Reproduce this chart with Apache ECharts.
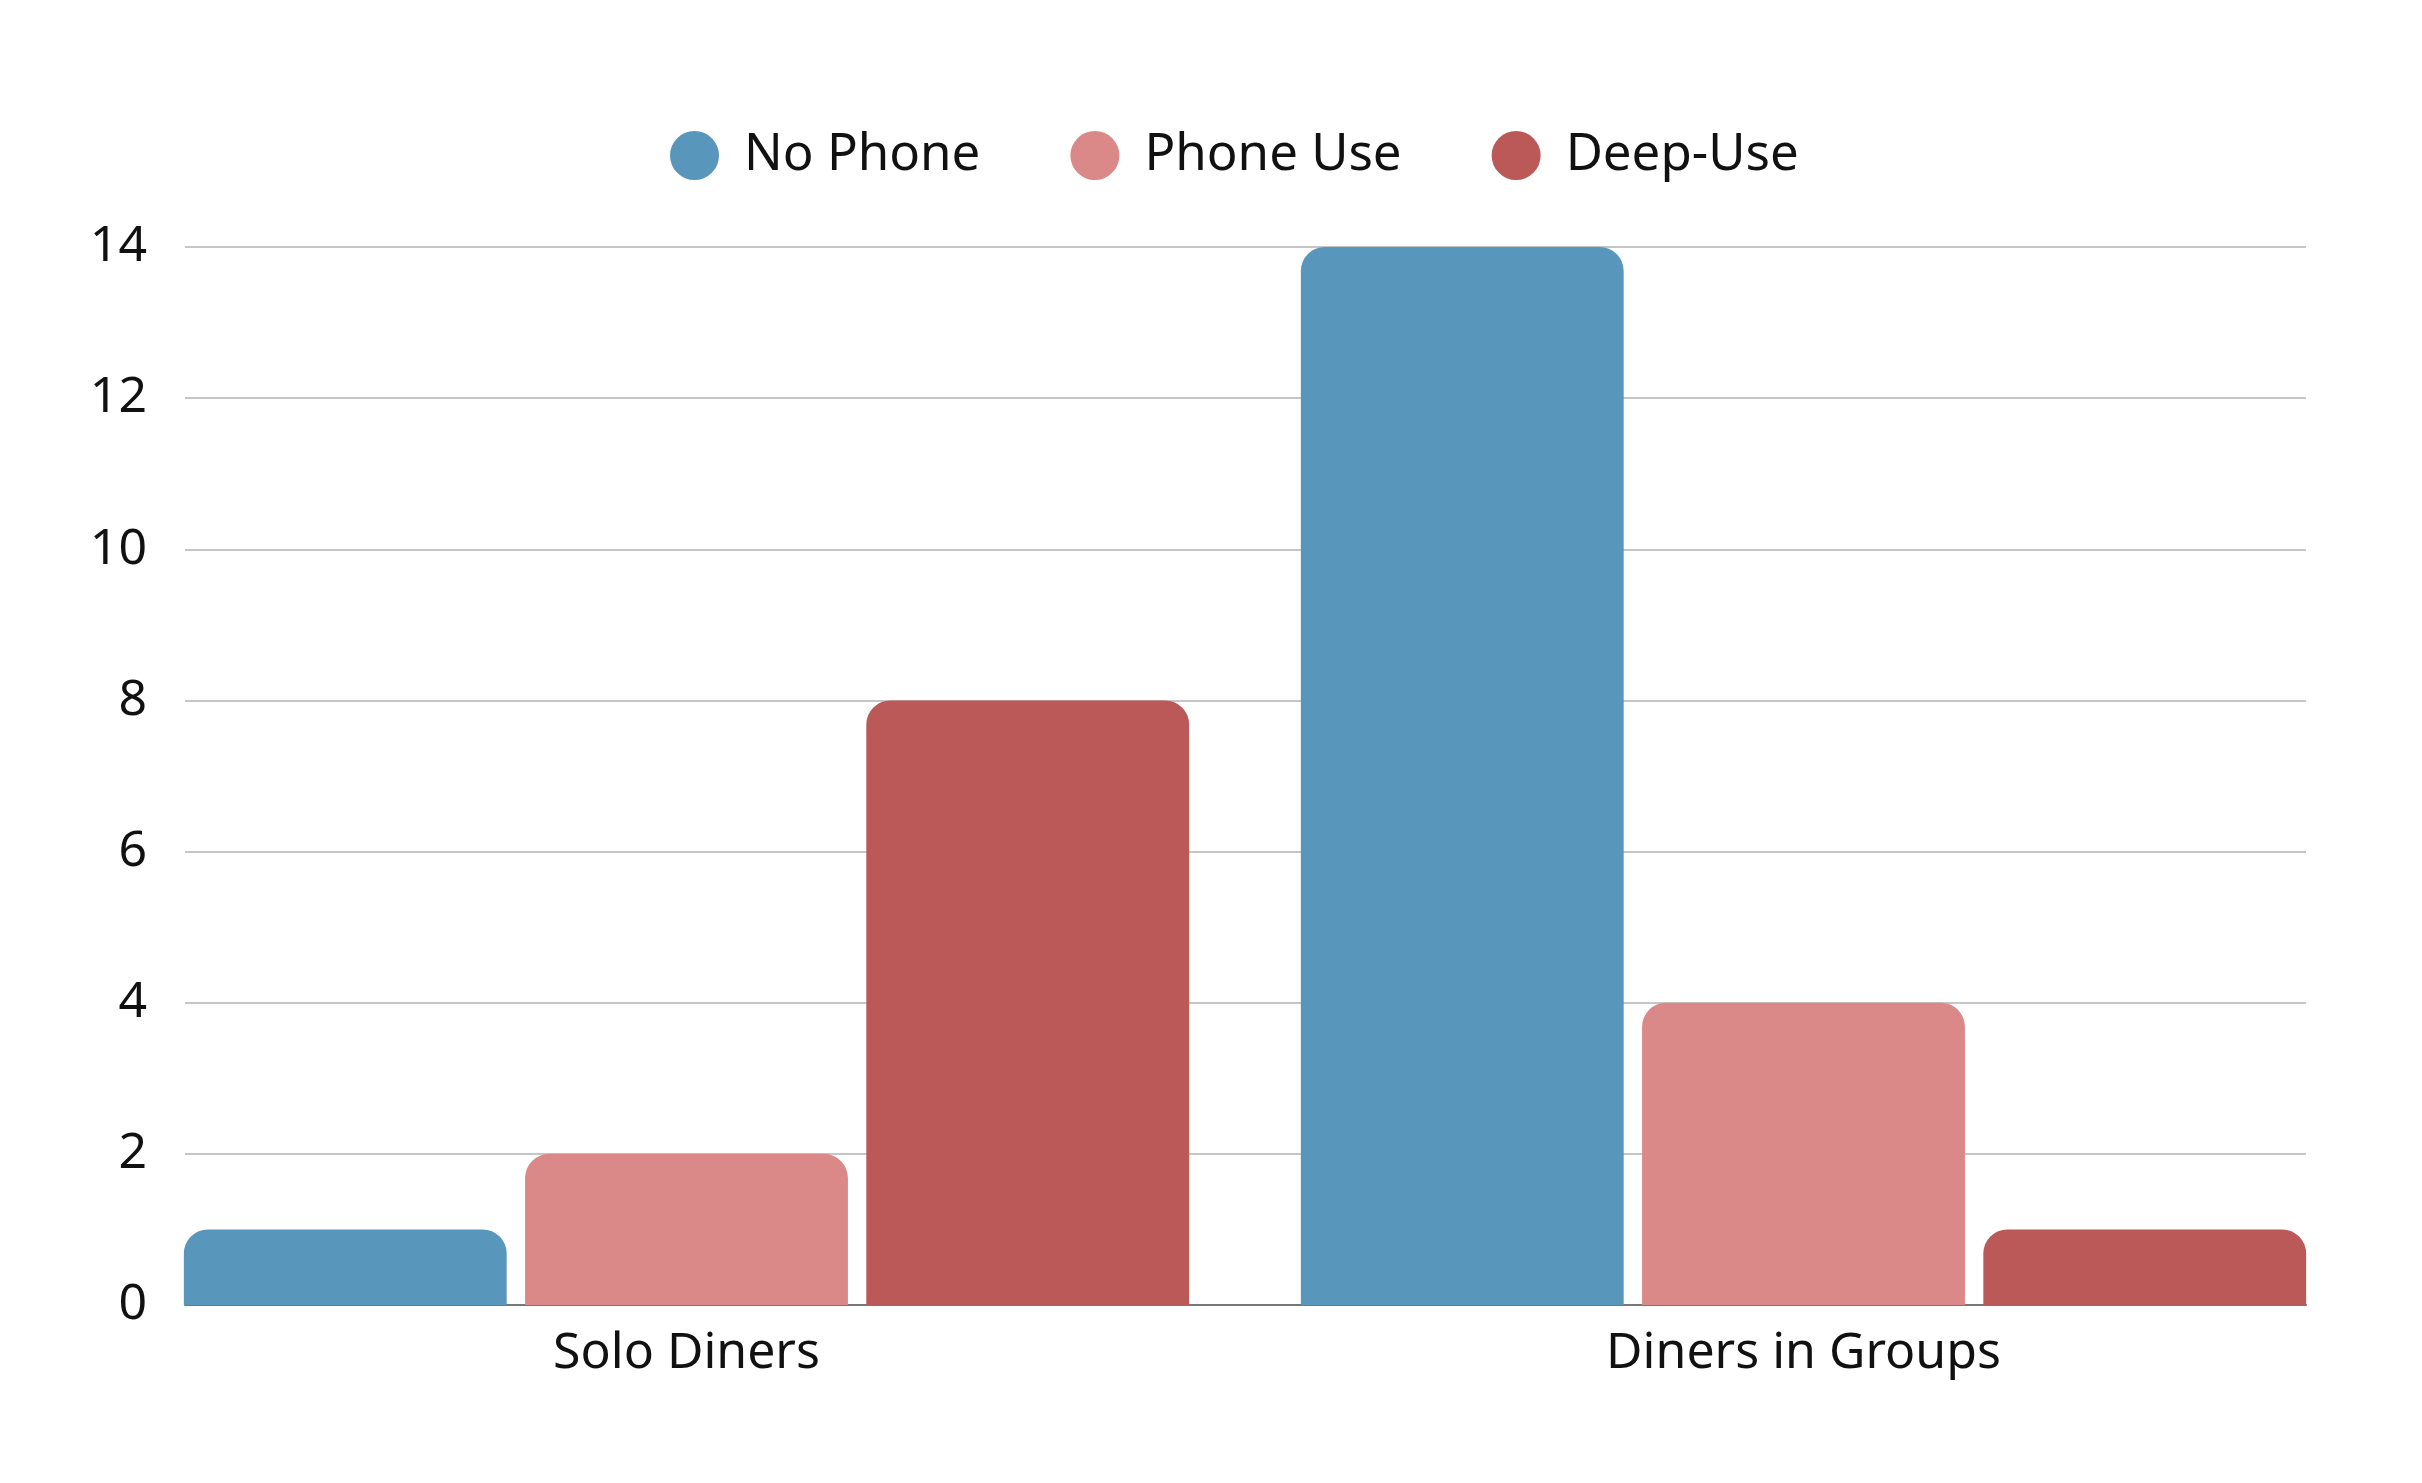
<!DOCTYPE html>
<html>
<head>
<meta charset="utf-8">
<script src="https://cdn.jsdelivr.net/npm/echarts@6/dist/echarts.min.js"></script>
<style>
  html, body { margin: 0; padding: 0; background: #fff; }
  #chart { width: 2422px; height: 1483px; }
</style>
</head>
<body>
<div id="chart"></div>
<script>
const categories = ['Solo Diners', 'Diners in Groups']
const seriesNames = ['No Phone', 'Phone Use', 'Deep-Use']
const noPhone = [1, 14]
const phoneUse = [2, 4]
const deepUse = [8, 1]
const colors = ['#5896bb', '#da8888', '#bb5959']

const chart = echarts.init(document.getElementById('chart'))
const font = 'Noto Sans'

const makeSeries = (name, data, i) => ({
    name: name,
    type: 'bar',
    xAxisIndex: 1,
    yAxisIndex: 1,
    data: data,
    barGap: '5.7%',
    barCategoryGap: '10%',
    itemStyle: { color: colors[i], borderRadius: [24, 24, 0, 0] }
})

chart.setOption({
    animation: false,
    color: colors,
    legend: {
        left: 665,
        top: 125,
        icon: 'circle',
        itemWidth: 49,
        itemHeight: 49,
        itemGap: 90,
        textStyle: { fontFamily: font, fontSize: 51, color: '#111', padding: [0, 0, 0, 20] },
        data: seriesNames
    },
    grid: [
        { left: 185, right: 116, top: 247, bottom: 178 },
        { left: 128, right: 60, top: 247, bottom: 178 }
    ],
    xAxis: [
        {
            gridIndex: 0,
            type: 'value',
            min: 0,
            max: 1,
            axisLabel: { show: false },
            axisTick: { show: false },
            splitLine: { show: false },
            axisLine: { show: true, lineStyle: { color: '#777', width: 2 } }
        },
        {
            gridIndex: 1,
            type: 'category',
            data: categories,
            axisLine: { show: false },
            axisTick: { show: false },
            axisLabel: { fontFamily: font, fontSize: 50, color: '#111', margin: 24 }
        }
    ],
    yAxis: [
        {
            gridIndex: 0,
            type: 'value',
            min: 0,
            max: 14,
            interval: 2,
            axisLine: { show: false },
            axisTick: { show: false },
            axisLabel: { fontFamily: font, fontSize: 50, color: '#111', margin: 38 },
            splitLine: { lineStyle: { color: '#c6c6c6', width: 2 } }
        },
        {
            gridIndex: 1,
            type: 'value',
            min: 0,
            max: 14,
            show: false,
            splitLine: { show: false }
        }
    ],
    series: [
        makeSeries(seriesNames[0], noPhone, 0),
        makeSeries(seriesNames[1], phoneUse, 1),
        makeSeries(seriesNames[2], deepUse, 2)
    ]
})
</script>
</body>
</html>
